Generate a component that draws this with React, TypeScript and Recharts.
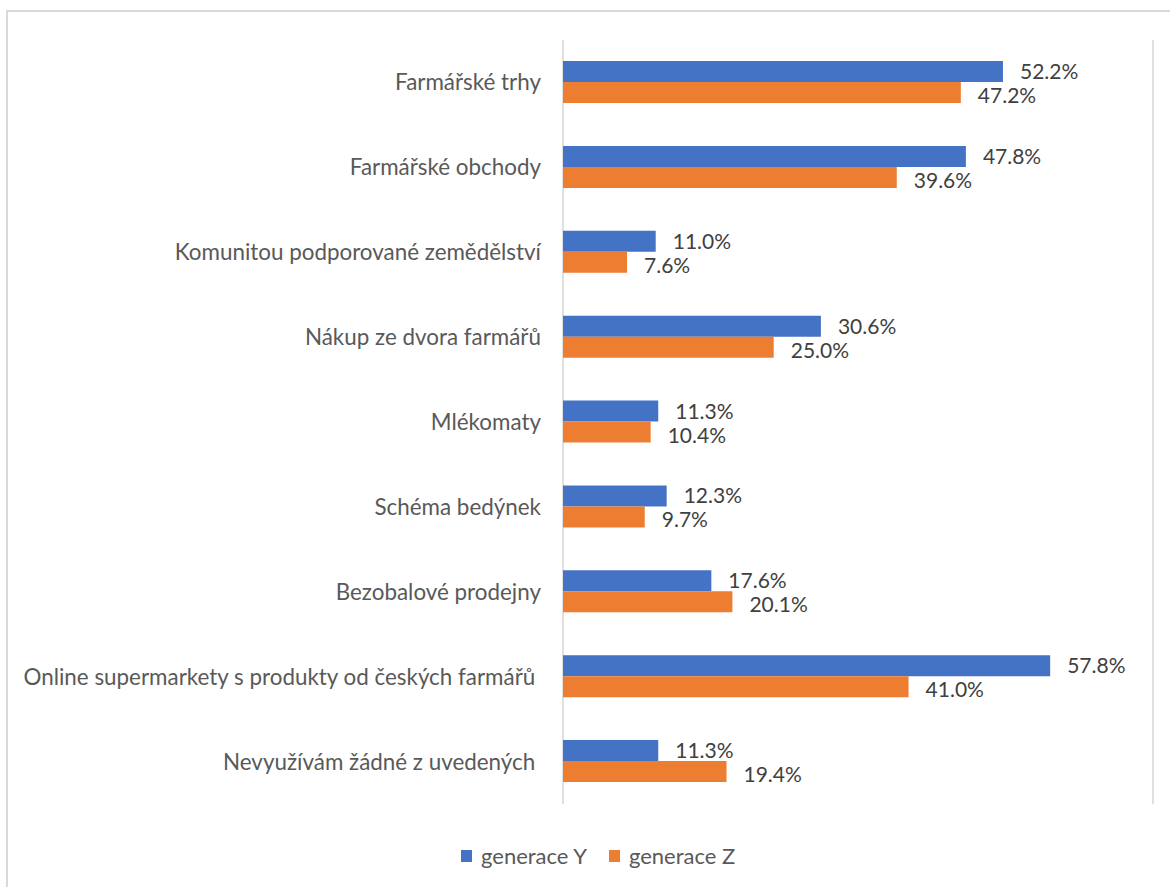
import React from 'react';
import { BarChart, Bar, XAxis, YAxis, CartesianGrid, LabelList, Legend } from 'recharts';

const categories = [
  'Farmářské trhy',
  'Farmářské obchody',
  'Komunitou podporované zemědělství',
  'Nákup ze dvora farmářů',
  'Mlékomaty',
  'Schéma bedýnek',
  'Bezobalové prodejny',
  'Online supermarkety s produkty od českých farmářů ',
  'Nevyužívám žádné z uvedených ',
];
const generaceY = [52.2, 47.8, 11.0, 30.6, 11.3, 12.3, 17.6, 57.8, 11.3];
const generaceZ = [47.2, 39.6, 7.6, 25.0, 10.4, 9.7, 20.1, 41.0, 19.4];
const xTicks = [0, 10, 20, 30, 40, 50, 60, 70];
const seriesNames = ['generace Y', 'generace Z'];
const colors = ['#4472C4', '#ED7D31'];

const data = categories.map((name, i) => ({ name, y: generaceY[i], z: generaceZ[i] }));

const FONT = 'Lato, "Open Sans", sans-serif';
const fmt = (v: any) => `${Number(v).toFixed(1)}%`;

const CategoryTick = (props: any) => {
  const { x, y, payload } = props;
  return (
    <text
      x={x}
      y={y}
      dy="0.355em"
      textAnchor="end"
      fill="#595959"
      fontSize={22.4}
      fontFamily={FONT}
      xmlSpace="preserve"
      style={{ whiteSpace: 'pre' }}
    >
      {payload.value}
    </text>
  );
};

const makeLabel = (dyShift: number) => (props: any) => {
  const { x, y, width, height, value } = props;
  return (
    <text
      x={Number(x) + Number(width) + 17}
      y={Number(y) + Number(height) / 2 + dyShift}
      dy="0.355em"
      textAnchor="start"
      fill="#404040"
      fontSize={21}
      fontFamily={FONT}
    >
      {fmt(value)}
    </text>
  );
};

const LegendContent = () => (
  <div style={{ display: 'flex', alignItems: 'center', fontFamily: FONT, fontSize: 22, color: '#595959' }}>
    {seriesNames.map((n, i) => (
      <div key={n} style={{ display: 'flex', alignItems: 'center', marginRight: 22 }}>
        <span style={{ display: 'inline-block', width: 11, height: 12, background: colors[i], marginRight: 9 }} />
        <span>{n}</span>
      </div>
    ))}
  </div>
);

export default function App() {
  return (
    <div style={{ position: 'absolute', top: 0, left: 0, width: 1170, height: 887, overflow: 'hidden', background: '#fff' }}>
      <div
        style={{
          position: 'absolute',
          top: 10,
          left: 6,
          width: 1300,
          height: 1000,
          border: '2px solid #d9d9d9',
          boxSizing: 'border-box',
        }}
      />
      <div style={{ position: 'absolute', top: 0, left: 0 }}>
        <BarChart
          width={1170}
          height={887}
          data={data}
          layout="vertical"
          margin={{ top: 40, right: 17, bottom: 83, left: 0 }}
          barGap={0}
          barSize={21}
        >
          <CartesianGrid horizontal={false} stroke="#d9d9d9" strokeWidth={1.6} />
          <XAxis
            type="number"
            domain={[0, 70]}
            ticks={xTicks}
            tick={false}
            axisLine={false}
            tickLine={false}
            height={0}
          />
          <YAxis
            type="category"
            dataKey="name"
            width={563}
            axisLine={false}
            tickLine={false}
            tickSize={0}
            tickMargin={22}
            tick={<CategoryTick />}
            interval={0}
          />
          <Legend
            layout="horizontal"
            verticalAlign="middle"
            align="center"
            content={<LegendContent />}
            wrapperStyle={{ top: 842, left: 461, width: 400 }}
          />
          <Bar dataKey="y" name={seriesNames[0]} fill={colors[0]} isAnimationActive={false}>
            <LabelList dataKey="y" content={makeLabel(0)} />
          </Bar>
          <Bar dataKey="z" name={seriesNames[1]} fill={colors[1]} isAnimationActive={false}>
            <LabelList dataKey="z" content={makeLabel(3)} />
          </Bar>
        </BarChart>
      </div>
    </div>
  );
}
